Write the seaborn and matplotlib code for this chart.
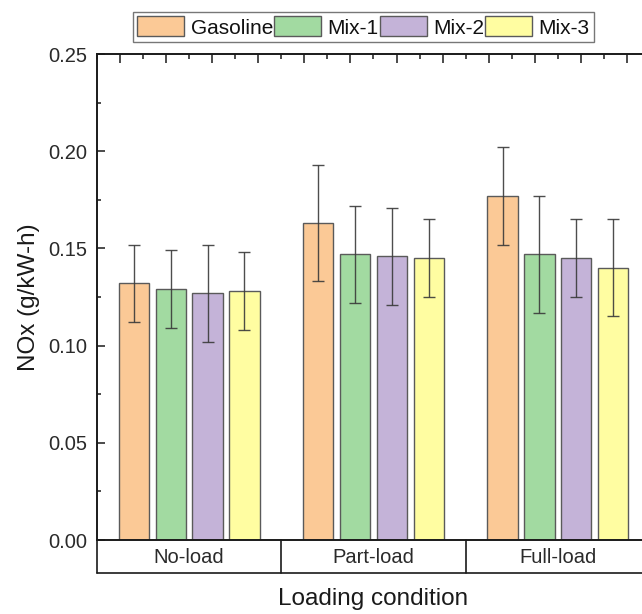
import numpy as np
import pandas as pd
import matplotlib
matplotlib.use("Agg")
import matplotlib.pyplot as plt
from matplotlib.container import BarContainer
import seaborn as sns

# ---- data ----
loads = ["No-load", "Part-load", "Full-load"]
fuels = ["Gasoline", "Mix-1", "Mix-2", "Mix-3"]
gasoline = [0.132, 0.163, 0.177]
mix1 = [0.129, 0.147, 0.147]
mix2 = [0.127, 0.146, 0.145]
mix3 = [0.128, 0.145, 0.140]
err_gasoline = [0.020, 0.030, 0.025]
err_mix1 = [0.020, 0.025, 0.030]
err_mix2 = [0.025, 0.025, 0.020]
err_mix3 = [0.020, 0.020, 0.025]
yticks = [0.00, 0.05, 0.10, 0.15, 0.20, 0.25]
colors = ["#FBC996", "#A2DAA1", "#C4B3D8", "#FFFDA1"]

values = [gasoline, mix1, mix2, mix3]
errors = [err_gasoline, err_mix1, err_mix2, err_mix3]
rows = []
for f, vals, errs in zip(fuels, values, errors):
    for l, v, e in zip(loads, vals, errs):
        rows.append({"load": l, "fuel": f, "nox": v, "err": e})
df = pd.DataFrame(rows)

sns.set_style("ticks")
plt.rcParams["font.family"] = ["Liberation Sans", "DejaVu Sans"]
plt.rcParams["text.color"] = "#1a1a1a"
plt.rcParams["axes.labelcolor"] = "#1a1a1a"
plt.rcParams["xtick.color"] = "#1a1a1a"
plt.rcParams["ytick.color"] = "#1a1a1a"
plt.rcParams["xtick.labelcolor"] = "#2a2a2a"
plt.rcParams["ytick.labelcolor"] = "#2a2a2a"

fig = plt.figure(figsize=(6.42, 6.14), dpi=100)
ax = fig.add_axes([0.151, 0.1205, 0.8615, 0.7915])

sns.barplot(data=df, x="load", y="nox", hue="fuel", order=loads, hue_order=fuels,
            palette=colors, saturation=1, width=0.8, gap=0.18, errorbar=None,
            edgecolor="#5a5a5a", linewidth=1.0, ax=ax)

# error bars at the bar centres (one BarContainer per fuel, in hue order)
containers = [c for c in ax.containers if isinstance(c, BarContainer)]
for cont, errs in zip(containers, errors):
    xs = [p.get_x() + p.get_width() / 2 for p in cont.patches]
    hs = [p.get_height() for p in cont.patches]
    ax.errorbar(xs, hs, yerr=errs, fmt="none", ecolor="#3a3a3a",
                elinewidth=1.0, capsize=4, capthick=1.0, alpha=0.9, zorder=5)

ax.set_xlim(-0.5, 2.5)
ax.set_ylim(0, 0.25)
ax.set_yticks(yticks)
ax.set_yticklabels([f"{t:.2f}" for t in yticks])
ax.set_yticks(np.arange(0.025, 0.25, 0.05), minor=True)
ax.tick_params(axis="y", which="major", direction="in", length=6, width=1.1,
               labelsize=14.5, pad=7, right=True)
ax.tick_params(axis="y", which="minor", direction="in", length=3, width=1.1, right=True)
ax.tick_params(axis="x", which="both", length=0, labelsize=14.5, pad=6)

for s in ax.spines.values():
    s.set_linewidth(1.2)
    s.set_color("#1a1a1a")

ax.set_ylabel("NOx (g/kW-h)", fontsize=17.5, labelpad=6)
ax.set_xlabel("Loading condition", fontsize=17.5, labelpad=15)

# top axis ticks
ax2 = ax.twiny()
ax2.set_xlim(0, 12)
ax2.set_xticks(np.arange(0.5, 12, 1.0))
ax2.set_xticks(np.arange(0, 12.01, 1.0), minor=True)
ax2.tick_params(axis="x", which="major", direction="in", length=6.5, width=1.1,
                labeltop=False, top=True, bottom=False)
ax2.tick_params(axis="x", which="minor", direction="in", length=3.5, width=1.1,
                top=True, bottom=False)
for s in ax2.spines.values():
    s.set_linewidth(1.2)
    s.set_color("#1a1a1a")

# category table below the x axis
tr = ax.get_xaxis_transform()
box_y = -0.068
for xv in [-0.5, 0.5, 1.5, 2.5]:
    ax.plot([xv, xv], [0, box_y], transform=tr, color="#1a1a1a", lw=1.2, clip_on=False)
ax.plot([-0.5, 2.5], [box_y, box_y], transform=tr, color="#1a1a1a", lw=1.2, clip_on=False)

# legend
sns.move_legend(ax, loc="center", bbox_to_anchor=(0.566, 0.956),
                bbox_transform=fig.transFigure, ncol=4, title=None, frameon=True,
                fontsize=15, handlelength=2.26, handleheight=1.1, handletextpad=0.3,
                columnspacing=0.05, borderpad=0.2, borderaxespad=0, fancybox=False)
leg = ax.get_legend()
leg.get_frame().set_edgecolor("#555555")
leg.get_frame().set_linewidth(1.0)
for t in leg.get_texts():
    t.set_color("#111111")

fig.savefig("out.png", dpi=100)
